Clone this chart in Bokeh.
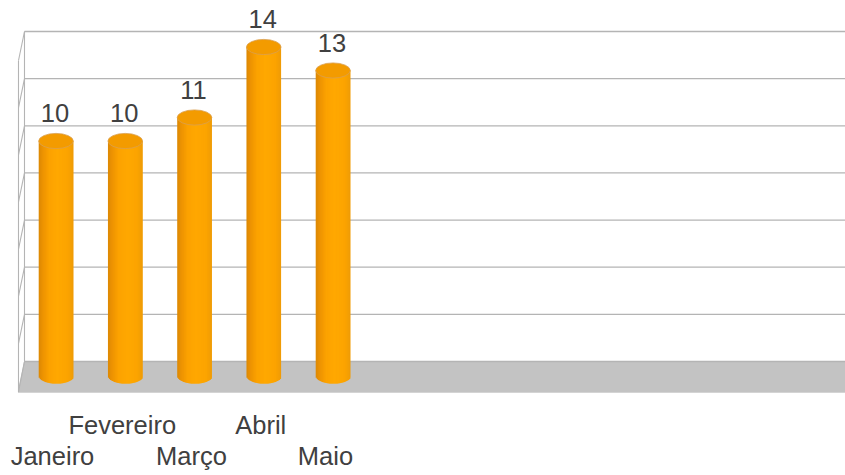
from bokeh.plotting import figure
from bokeh.models import LinearAxis, FixedTicker, Range1d
from bokeh.core.properties import value
from bokeh.embed import file_html
from bokeh.resources import INLINE

categories = ["Janeiro", "Fevereiro", "Março", "Abril", "Maio"]
values = [10, 10, 11, 14, 13]
grid_values = [0, 2, 4, 6, 8, 10, 12, 14]
upper_row = [1, 3]
lower_row = [0, 2, 4]
label_shift_px = [-3.5, -3, -3, -3, -7.5]

# scales (pixels per unit)
SX = 69.25
SY = 23.5
PX0, PY0 = 55.5, 375.5          # picture position of category 0 / value 0
FL, FR, FT, FB = 0, 845, 0, 392  # frame in the picture
xr = Range1d((FL - PX0) / SX, (FR - PX0) / SX)
yr = Range1d((PY0 - FB) / SY, (PY0 - FT) / SY)

p = figure(frame_width=FR - FL, frame_height=FB - FT, x_range=xr, y_range=yr,
           x_axis_type=None, y_axis_type=None, toolbar_location=None,
           output_backend="svg", min_border=0, min_border_left=0, min_border_right=0,
           min_border_top=0, min_border_bottom=0, outline_line_color=None,
           background_fill_color="white", border_fill_color="white")
p.grid.visible = False

bx = (24 - PX0) / SX
fx = (18 - PX0) / SX
by = (PY0 - 361) / SY      # back-wall lift
fy = (PY0 - 392) / SY      # front-edge drop
slant = 29 / SY
wall_scale = 1.003         # back wall is a touch taller than the bar plane
WALL = "#B4B4B4"

# floor
p.patch([fx, bx, xr.end, xr.end], [fy, by, by, fy], fill_color="#C3C3C3", line_color="#B8B8B8", line_width=1)

# walls and grid
for g in grid_values:
    y = g * wall_scale + by
    p.line([bx, xr.end], [y, y], line_color=WALL, line_width=1.3)
    p.line([fx, bx], [y - slant, y], line_color=WALL, line_width=1.1)
p.line([bx, bx], [by, grid_values[-1] * wall_scale + by], line_color=WALL, line_width=1.1)
p.line([fx, fx], [fy, grid_values[-1] * wall_scale + by - slant], line_color=WALL, line_width=1.1)

# cylinders
R = 17.3
EH = 7.6
stops = [(0.0, (222, 138, 4)), (0.12, (238, 148, 2)), (0.3, (252, 162, 0)), (0.55, (255, 168, 0)),
         (0.85, (252, 164, 0)), (1.0, (240, 156, 6))]


def shade(t):
    for (a, ca), (b, cb) in zip(stops, stops[1:]):
        if t <= b:
            u = (t - a) / (b - a)
            return "#%02x%02x%02x" % tuple(round(x + (y - x) * u) for x, y in zip(ca, cb))
    return "#%02x%02x%02x" % stops[-1][1]


n = 35
l, r, t, b, c = [], [], [], [], []
for i, v in enumerate(values):
    for k in range(n):
        xa = -R + k * 2 * R / n
        xm = xa + R / n
        l.append(i + xa / SX)
        r.append(i + min(xa + 2 * R / n + 1.0, R) / SX)   # overlap hides the seams
        t.append(v)
        b.append(-(EH * (1 - (xm / R) ** 2) ** 0.5) / SY)
        c.append(shade(k / (n - 1)))
p.quad(left=l, right=r, top=t, bottom=b, fill_color=c, line_color=None)

idx = list(range(len(values)))
p.ellipse(x=idx, y=values, width=2 * R, height=2 * EH, width_units="screen", height_units="screen",
          fill_color="#F39B00", line_color="#D9A050", line_width=0.8)

# value labels
p.text(x=idx, y=values, text=[str(v) for v in values], text_align="center", text_baseline="alphabetic",
       x_offset=-1, y_offset=-28, text_font=value("Liberation Sans"), text_font_size="25.5px", text_color="#404040")

# staggered category labels
for row, standoff in ((upper_row, 12), (lower_row, -6)):
    ticks = [round(i + label_shift_px[i] / SX, 4) for i in row]
    ax = LinearAxis(ticker=FixedTicker(ticks=ticks),
                    major_label_overrides={tk: categories[i] for tk, i in zip(ticks, row)})
    ax.axis_line_color = None
    ax.major_tick_line_color = None
    ax.minor_tick_line_color = None
    ax.major_label_standoff = standoff
    ax.major_label_text_font = "Liberation Sans"
    ax.major_label_text_font_size = "25.5px"
    ax.major_label_text_color = "#404040"
    p.add_layout(ax, "below")

open("out.html", "w").write(file_html(p, INLINE))
